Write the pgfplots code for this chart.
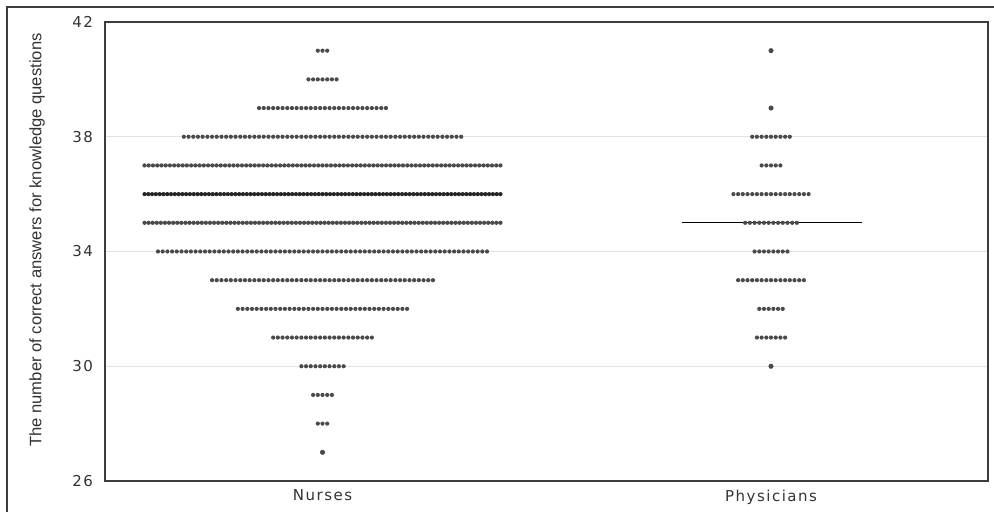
\documentclass[border=0pt]{standalone}
\usepackage{pgfplots}
\pgfplotsset{compat=1.18}
\usepackage{fontspec}
\setmainfont{Liberation Sans}
\newfontfamily\axfont[LetterSpace=10]{DejaVu Sans}
\definecolor{txt}{HTML}{333333}
\definecolor{dotc}{HTML}{4A4A4A}
\definecolor{axc}{HTML}{3C3C3C}
\definecolor{gridc}{HTML}{E2E2E2}
\pgfplotsset{
  dotrow/.style={draw=dotc, line width=2.1pt, line cap=round, dash pattern=on 0pt off #1, forget plot, mark=none},
  onedot/.style={only marks, mark=*, mark size=1.05pt, color=dotc, forget plot},
}
\begin{document}
\begin{tikzpicture}
\useasboundingbox (0,0) rectangle (497pt,256pt);
\draw[axc, line width=0.6pt] (3.5pt,0) -- (3.5pt,252.5pt) -- (497pt,252.5pt);
\begin{axis}[
  at={(52.5pt,15.5pt)}, anchor=south west,
  width=441.5pt, height=229.5pt, scale only axis,
  xmin=105, xmax=988, ymin=26, ymax=42,
  xtick={322.5,771}, xticklabels={Nurses,Physicians},
  ytick={26,30,34,38,42},
  major tick length=0pt,
  ymajorgrids, grid style={gridc, line width=0.6pt},
  axis line style={axc, line width=0.75pt},
  /pgf/number format/assume math mode=true,
  ticklabel style={font=\axfont\fontsize{7.5pt}{9pt}\selectfont, text=txt},
  yticklabel style={xshift=-2.5pt},
  xticklabel style={yshift=-1pt},
  ylabel={The number of correct answers for knowledge questions},
  ylabel style={font=\fontsize{8.3pt}{10pt}\selectfont, text=txt, at={(axis description cs:-0.077,0.525)}, anchor=center},
]
% median lines
\addplot[black, line width=0.6pt, forget plot] coordinates {(232.5,36) (412.5,36)};
\addplot[black, line width=0.6pt, forget plot] coordinates {(682,35) (862,35)};
% Nurses (one row per score; endpoints of the row of dots)
\addplot[dotrow=2.35pt] coordinates {(317.8,41) (327.25,41)};
\addplot[dotrow=2.35pt] coordinates {(308.4,40) (336.65,40)};
\addplot[dotrow=2.35pt] coordinates {(259.05,39) (386.0,39)};
\addplot[dotrow=2.35pt] coordinates {(183.85,38) (461.2,38)};
\addplot[dotrow=2.119pt] coordinates {(144.5,37) (500.55,37)};
\addplot[dotrow=1.8935pt, draw=black!85] coordinates {(144.5,36) (500.55,36)};
\addplot[dotrow=2.046pt] coordinates {(144.5,35) (500.55,35)};
\addplot[dotrow=2.35pt] coordinates {(158,34) (487.05,34)};
\addplot[dotrow=2.35pt] coordinates {(212.05,33) (433.0,33)};
\addplot[dotrow=2.35pt] coordinates {(237.9,32) (407.15,32)};
\addplot[dotrow=2.35pt] coordinates {(273.15,31) (371.9,31)};
\addplot[dotrow=2.35pt] coordinates {(301.35,30) (343.7,30)};
\addplot[dotrow=2.35pt] coordinates {(313.1,29) (331.95,29)};
\addplot[dotrow=2.35pt] coordinates {(317.8,28) (327.25,28)};
\addplot[onedot] coordinates {(322.5,27)};
% Physicians
\addplot[onedot] coordinates {(771,41) (771,39) (771,30)};
\addplot[dotrow=2.35pt] coordinates {(752.2,38) (789.85,38)};
\addplot[dotrow=2.35pt] coordinates {(761.6,37) (780.45,37)};
\addplot[dotrow=2.35pt] coordinates {(733.4,36) (808.65,36)};
\addplot[dotrow=2.35pt] coordinates {(745.15,35) (796.9,35)};
\addplot[dotrow=2.35pt] coordinates {(754.55,34) (787.5,34)};
\addplot[dotrow=2.35pt] coordinates {(738.1,33) (803.95,33)};
\addplot[dotrow=2.35pt] coordinates {(759.25,32) (782.8,32)};
\addplot[dotrow=2.35pt] coordinates {(756.9,31) (785.15,31)};
\end{axis}
\end{tikzpicture}
\end{document}
